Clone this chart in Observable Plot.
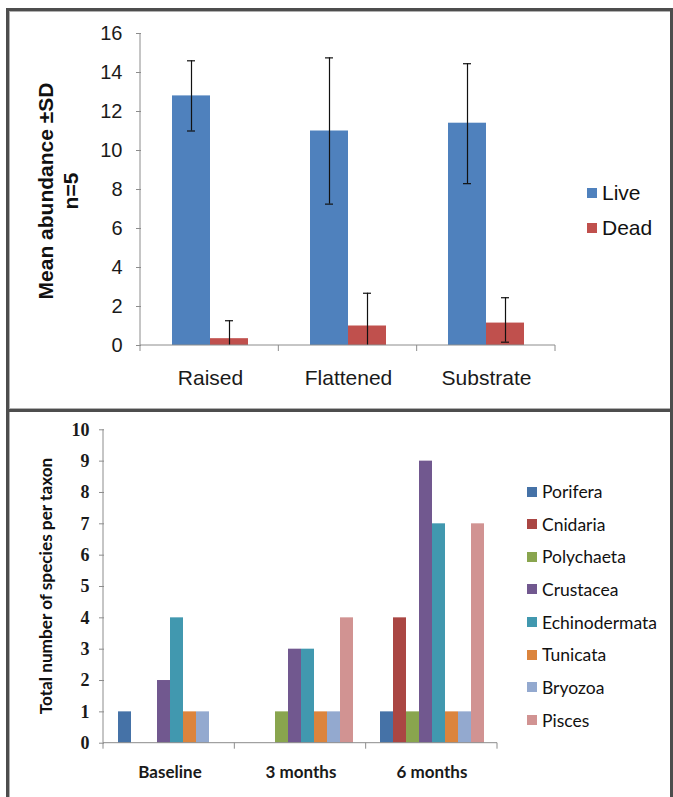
<!DOCTYPE html>
<html>
<head>
<meta charset="utf-8">
<script src="https://cdn.jsdelivr.net/npm/d3@7"></script>
<script src="https://cdn.jsdelivr.net/npm/@observablehq/plot@0.6"></script>
<style>
  body { margin: 0; background: #fff; }
  #wrap { position: relative; width: 673px; height: 797px; overflow: hidden; background: #fff; }
  .line { position: absolute; background: #4d4d4d; }
  .lineLight { position: absolute; background: #b0b0b0; }
  .plotBox { position: absolute; left: 0; }
  .plotBox svg { display: block; }
  .leg { position: absolute; display: flex; align-items: center; white-space: nowrap; }
  .sw { display: inline-block; }
  .ylab { position: absolute; white-space: nowrap; text-align: center; transform: translate(-50%, -50%) rotate(-90deg); }
</style>
</head>
<body>
<div id="wrap"></div>
<script>
// ---------- Top chart data ----------
const sites = ["Raised", "Flattened", "Substrate"];
const conditions = ["Live", "Dead"];
const conditionColors = ["#4F81BD", "#C0504D"];
const liveMean = [12.8, 11.0, 11.4];
const liveLow = [11.0, 7.25, 8.3];
const liveHigh = [14.6, 14.75, 14.45];
const deadMean = [0.35, 1.0, 1.15];
const deadLow = [0, 0, 0.17];
const deadHigh = [1.27, 2.68, 2.45];
const topTicks = [0, 2, 4, 6, 8, 10, 12, 14, 16];

// ---------- Bottom chart data ----------
const periods = ["Baseline", "3 months", "6 months"];
const taxa = ["Porifera", "Cnidaria", "Polychaeta", "Crustacea", "Echinodermata", "Tunicata", "Bryozoa", "Pisces"];
const taxonColors = ["#4572A7", "#AA4643", "#89A54E", "#71588F", "#4198AF", "#DB843D", "#93A9CF", "#D19392"];
const countsBaseline = [1, 0, 0, 2, 4, 1, 1, 0];
const counts3Months = [0, 0, 1, 3, 3, 1, 1, 4];
const counts6Months = [1, 4, 1, 9, 7, 1, 1, 7];
const bottomTicks = [0, 1, 2, 3, 4, 5, 6, 7, 8, 9, 10];

// ---------- Tables ----------
const topData = [];
sites.forEach((s, i) => {
  topData.push({site: s, condition: "Live", mean: liveMean[i], lo: liveLow[i], hi: liveHigh[i]});
  topData.push({site: s, condition: "Dead", mean: deadMean[i], lo: deadLow[i], hi: deadHigh[i]});
});
const countsByPeriod = [countsBaseline, counts3Months, counts6Months];
const bottomData = [];
periods.forEach((p, i) => taxa.forEach((t, j) => bottomData.push({period: p, taxon: t, count: countsByPeriod[i][j]})));

const wrap = document.getElementById("wrap");

function sc(s, v) {
  if (s.apply) return s.apply(v);
  const [d0, d1] = s.domain, [r0, r1] = s.range;
  return r0 + (v - d0) / (d1 - d0) * (r1 - r0);
}
function bandEdges(s) {
  const [r0, r1] = s.range;
  const n = s.domain.length;
  const step = (r1 - r0) / n;
  return d3.range(n + 1).map(i => r0 + i * step);
}
function styleAxes(svg, tickColor, textColor) {
  const sel = d3.select(svg);
  sel.selectAll("g[aria-label$='axis tick'] path, g[aria-label$='axis tick'] line, .tick line").attr("stroke", tickColor);
  sel.selectAll(".domain").remove();
  sel.selectAll("g[aria-label$='tick label'], g[aria-label$='tick label'] text, .tick text").attr("fill", textColor);
}
function addAxisLines(plot, yTop, tickLen, color) {
  const fx = plot.scale("fx"), y = plot.scale("y");
  const edges = bandEdges(fx);
  const y0 = sc(y, 0), y1 = sc(y, yTop);
  const g = d3.select(plot).append("g").attr("stroke", color).attr("stroke-width", 1);
  g.append("line").attr("x1", edges[0]).attr("x2", edges[0]).attr("y1", y0).attr("y2", y1);
  g.append("line").attr("x1", edges[0]).attr("x2", edges[edges.length - 1]).attr("y1", y0).attr("y2", y0);
  edges.forEach(e => g.append("line").attr("x1", e).attr("x2", e).attr("y1", y0).attr("y2", y0 + tickLen));
}

// ---------- Top plot ----------
const topPlot = Plot.plot({
  width: 673,
  height: 410,
  marginLeft: 140,
  marginRight: 118,
  marginTop: 33,
  marginBottom: 65,
  style: {fontFamily: "'Liberation Sans', Arial, sans-serif", fontSize: "20px", background: "transparent", color: "#1a1a1a", overflow: "visible"},
  fx: {domain: sites, padding: 0, label: null, axis: "bottom", tickSize: 0, tickPadding: 25},
  x: {domain: conditions, paddingInner: 0, paddingOuter: 0.8, axis: null},
  y: {domain: [0, 16], ticks: topTicks, tickSize: 5, tickPadding: 14, label: null},
  color: {domain: conditions, range: conditionColors},
  marks: [
    Plot.barY(topData, {fx: "site", x: "condition", y: "mean", fill: "condition"}),
    Plot.ruleX(topData, {fx: "site", x: "condition", y1: "lo", y2: "hi", stroke: "#111", strokeWidth: 1.2}),
    Plot.tickY(topData, {fx: "site", x: "condition", y: "hi", stroke: "#111", strokeWidth: 1.2, insetLeft: 15, insetRight: 15}),
    Plot.tickY(topData.filter(d => d.lo > 0), {fx: "site", x: "condition", y: "lo", stroke: "#111", strokeWidth: 1.2, insetLeft: 15, insetRight: 15})
  ]
});
styleAxes(topPlot, "#8c8c8c", "#1a1a1a");
d3.select(topPlot).selectAll("g[aria-label='fx-axis tick label'] text, g[aria-label='fx-axis tick label']")
  .attr("font-size", "21px");
addAxisLines(topPlot, 16, 6, "#8c8c8c");
const topBox = document.createElement("div");
topBox.className = "plotBox";
topBox.style.top = "0px";
topBox.appendChild(topPlot);
wrap.appendChild(topBox);

// ---------- Bottom plot ----------
const bottomPlot = Plot.plot({
  width: 673,
  height: 387,
  marginLeft: 103,
  marginRight: 176,
  marginTop: 19.3,
  marginBottom: 54.3,
  style: {fontFamily: "'Liberation Serif', 'Times New Roman', serif", fontSize: "18px", fontWeight: "bold", background: "transparent", color: "#1a1a1a", overflow: "visible"},
  fx: {domain: periods, padding: 0, label: null, axis: "bottom", tickSize: 0, tickPadding: 23},
  x: {domain: taxa, paddingInner: 0, paddingOuter: 0.83, axis: null},
  y: {domain: [0, 10], ticks: bottomTicks, tickSize: 5, tickPadding: 10, label: null},
  color: {domain: taxa, range: taxonColors},
  marks: [
    Plot.barY(bottomData, {fx: "period", x: "taxon", y: "count", fill: "taxon"})
  ]
});
styleAxes(bottomPlot, "#8c8c8c", "#1a1a1a");
d3.select(bottomPlot).selectAll("g[aria-label='fx-axis tick label'] text, g[aria-label='fx-axis tick label']")
  .attr("font-family", "Lato, 'Open Sans', sans-serif").attr("font-size", "17px").attr("font-weight", "bold");
addAxisLines(bottomPlot, 10, 6, "#8c8c8c");
const bottomBox = document.createElement("div");
bottomBox.className = "plotBox";
bottomBox.style.top = "410px";
bottomBox.appendChild(bottomPlot);
wrap.appendChild(bottomBox);

// ---------- Frame ----------
function addLine(cls, l, t, w, h) {
  const d = document.createElement("div");
  d.className = cls;
  Object.assign(d.style, {left: l + "px", top: t + "px", width: w + "px", height: h + "px"});
  wrap.appendChild(d);
}
addLine("line", 6, 8, 667, 3);
addLine("lineLight", 9, 11, 661, 1);
addLine("line", 6, 8, 3, 789);
addLine("lineLight", 9, 11, 1, 786);
addLine("lineLight", 9, 408, 661, 1);
addLine("line", 6, 409, 667, 3);
addLine("line", 670, 8, 3, 789);

// ---------- Legends ----------
function addLegend(items, colors, opts) {
  items.forEach((name, i) => {
    const row = document.createElement("div");
    row.className = "leg";
    Object.assign(row.style, {left: opts.left + "px", top: (opts.top + i * opts.step - opts.rowH / 2) + "px", height: opts.rowH + "px",
      fontFamily: opts.font, fontSize: opts.size + "px", fontWeight: opts.weight || "normal", color: "#111"});
    const sw = document.createElement("span");
    sw.className = "sw";
    Object.assign(sw.style, {width: opts.sw + "px", height: opts.sw + "px", background: colors[i], marginRight: opts.gap + "px"});
    row.appendChild(sw);
    row.appendChild(document.createTextNode(name));
    wrap.appendChild(row);
  });
}
addLegend(conditions, conditionColors, {left: 587, top: 193, step: 35, rowH: 26, font: "'Liberation Sans', Arial, sans-serif", size: 21, sw: 10, gap: 5});
addLegend(taxa, taxonColors, {left: 527, top: 491.5, step: 32.65, rowH: 24, font: "Lato, 'Open Sans', sans-serif", size: 17.5, sw: 10, gap: 5});

// ---------- Axis titles ----------
const t1 = document.createElement("div");
t1.className = "ylab";
Object.assign(t1.style, {left: "58px", top: "191px", fontFamily: "'Liberation Sans', Arial, sans-serif", fontWeight: "bold", fontSize: "21px", lineHeight: "25px", color: "#111"});
t1.innerHTML = "Mean abundance ±SD<br>n=5";
wrap.appendChild(t1);

const t2 = document.createElement("div");
t2.className = "ylab";
Object.assign(t2.style, {left: "45px", top: "586px", fontFamily: "Lato, 'Open Sans', sans-serif", fontWeight: "bold", fontSize: "17.2px", color: "#111"});
t2.textContent = "Total number of species per taxon";
wrap.appendChild(t2);
</script>
</body>
</html>
